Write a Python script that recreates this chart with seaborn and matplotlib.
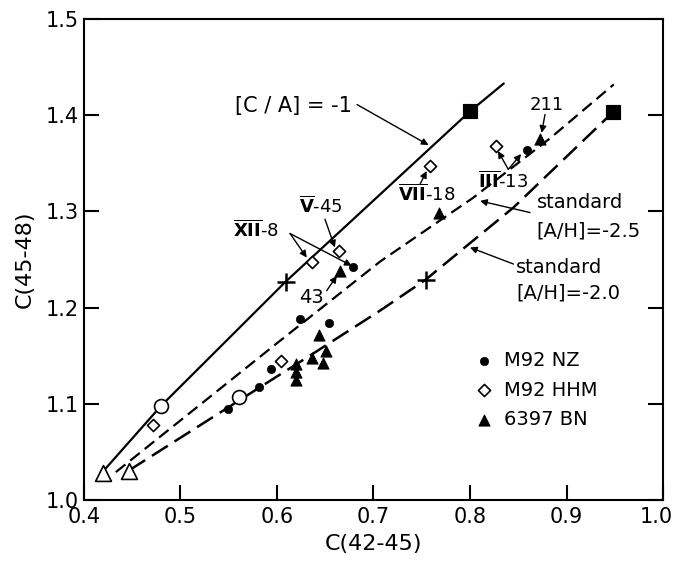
import matplotlib
matplotlib.use("Agg")
import matplotlib.pyplot as plt
from matplotlib.transforms import ScaledTranslation
import seaborn as sns

# lines
ca_x = [0.420, 0.480, 0.609, 0.800, 0.835]
ca_y = [1.030, 1.098, 1.227, 1.404, 1.433]
std25_x = [0.433, 0.600, 0.707, 0.803, 0.883, 0.949]
std25_y = [1.029, 1.163, 1.248, 1.314, 1.376, 1.432]
std20_x = [0.447, 0.582, 0.634, 0.707, 0.754, 0.800, 0.845, 0.948]
std20_y = [1.031, 1.117, 1.150, 1.197, 1.229, 1.267, 1.304, 1.403]

# points
nz_x = [0.549, 0.581, 0.594, 0.624, 0.654, 0.679, 0.859]
nz_y = [1.095, 1.117, 1.136, 1.188, 1.184, 1.242, 1.364]
hhm_x = [0.471, 0.604, 0.636, 0.664, 0.759, 0.827]
hhm_y = [1.078, 1.145, 1.247, 1.259, 1.347, 1.368]
bn_x = [0.620, 0.620, 0.620, 0.636, 0.644, 0.648, 0.651, 0.665, 0.768, 0.873]
bn_y = [1.141, 1.133, 1.125, 1.148, 1.171, 1.142, 1.155, 1.238, 1.298, 1.375]
opc_x = [0.4795, 0.561]
opc_y = [1.098, 1.107]
opt_x = [0.420, 0.447]
opt_y = [1.028, 1.030]
sq_x = [0.800, 0.948]
sq_y = [1.404, 1.403]
plus_x = [0.609, 0.754]
plus_y = [1.227, 1.229]

xticks = [0.4, 0.5, 0.6, 0.7, 0.8, 0.9, 1.0]
yticks = [1.0, 1.1, 1.2, 1.3, 1.4, 1.5]

sns.set_theme(style="ticks")
plt.rcParams['font.family'] = ['DejaVu Sans']
plt.rcParams['text.color'] = 'black'
plt.rcParams['axes.labelcolor'] = 'black'
plt.rcParams['mathtext.fontset'] = 'dejavusans'

fig = plt.figure(figsize=(6.76, 5.65), dpi=100)
ax = fig.add_axes([84 / 676, 65 / 565, 579 / 676, 481 / 565])

sns.lineplot(x=ca_x, y=ca_y, sort=False, color='black', linewidth=1.6, ax=ax)
sns.lineplot(x=std25_x, y=std25_y, sort=False, color='black', linewidth=1.6,
             linestyle=(0, (5.5, 2.8)), ax=ax)
sns.lineplot(x=std20_x, y=std20_y, sort=False, color='black', linewidth=1.8,
             linestyle=(0, (7.5, 3.2)), ax=ax)

sns.scatterplot(x=opc_x, y=opc_y, marker='o', s=100, facecolor='white',
                edgecolor='black', linewidth=1.2, zorder=5, ax=ax)
sns.scatterplot(x=opt_x, y=opt_y, marker='^', s=130, facecolor='white',
                edgecolor='black', linewidth=1.2, zorder=5, ax=ax)
sns.scatterplot(x=sq_x, y=sq_y, marker='s', s=110, color='black',
                edgecolor='black', zorder=5, ax=ax)
sns.scatterplot(x=plus_x, y=plus_y, marker='+', s=150, color='black',
                linewidth=1.8, zorder=5, ax=ax)

sns.scatterplot(x=nz_x, y=nz_y, marker='o', s=36, color='black',
                edgecolor='black', zorder=6, ax=ax, label='M92 NZ')
sns.scatterplot(x=hhm_x, y=hhm_y, marker='D', s=38, facecolor='white',
                edgecolor='black', linewidth=1.2, zorder=6, ax=ax, label='M92 HHM')
sns.scatterplot(x=bn_x, y=bn_y, marker='^', s=65, color='black',
                edgecolor='black', zorder=6, ax=ax, label='6397 BN')

ax.set_xlim(0.4, 1.0)
ax.set_ylim(1.0, 1.5)
ax.set_xticks(xticks)
ax.set_yticks(yticks)
ax.set_xticklabels([f"{t:.1f}" for t in xticks])
ax.set_yticklabels([f"{t:.1f}" for t in yticks])
ax.tick_params(direction='in', length=11, width=1.5, labelsize=15,
               right=True, colors='black')
ax.tick_params(axis='x', pad=5)
# keep the last x label inside the figure
last = ax.get_xticklabels()[-1]
last.set_transform(last.get_transform() + ScaledTranslation(-7 / 100, 0, fig.dpi_scale_trans))
for sp in ax.spines.values():
    sp.set_linewidth(1.5)
    sp.set_color('black')
ax.set_xlabel('C(42-45)', fontsize=16, labelpad=5)
ax.set_ylabel('C(45-48)', fontsize=16, labelpad=8)

arrow = dict(arrowstyle='-|>', color='black', lw=1.0, mutation_scale=10,
             shrinkA=0, shrinkB=0)
fs = 14

ax.text(0.5565, 1.410, '[C / A] = -1', fontsize=15, va='center', ha='left')
ax.annotate('', xy=(0.757, 1.369), xytext=(0.683, 1.411), arrowprops=arrow)

ax.text(0.578, 1.280, r'$\overline{\mathbf{XII}}$-8', fontsize=fs - 1,
        va='center', ha='center')
ax.annotate('', xy=(0.6308, 1.252), xytext=(0.6135, 1.277), arrowprops=arrow)
ax.annotate('', xy=(0.6774, 1.2435), xytext=(0.6135, 1.277), arrowprops=arrow)

ax.text(0.6456, 1.3057, r'$\overline{\mathbf{V}}$-45', fontsize=fs - 1,
        va='center', ha='center')
ax.annotate('', xy=(0.660, 1.2625), xytext=(0.6497, 1.2919), arrowprops=arrow)

ax.text(0.636, 1.2107, '43', fontsize=fs, va='center', ha='center')
ax.annotate('', xy=(0.662, 1.233), xytext=(0.6515, 1.2176), arrowprops=arrow)

ax.text(0.755, 1.3178, r'$\overline{\mathbf{VII}}$-18', fontsize=fs - 1,
        va='center', ha='center')
ax.annotate('', xy=(0.7551, 1.342), xytext=(0.7482, 1.3282), arrowprops=arrow)

ax.text(0.834, 1.331, r'$\overline{\mathbf{III}}$-13', fontsize=fs - 1,
        va='center', ha='center')
ax.annotate('', xy=(0.829, 1.3627), xytext=(0.8397, 1.3437), arrowprops=arrow)
ax.annotate('', xy=(0.853, 1.3596), xytext=(0.8397, 1.3437), arrowprops=arrow)

ax.text(0.8795, 1.411, '211', fontsize=fs - 1, va='center', ha='center')
ax.annotate('', xy=(0.8743, 1.3817), xytext=(0.8777, 1.4007), arrowprops=arrow)

ax.text(0.869, 1.3088, 'standard', fontsize=fs, va='center', ha='left')
ax.text(0.869, 1.2798, '[A/H]=-2.5', fontsize=fs, va='center', ha='left')
ax.annotate('', xy=(0.8104, 1.3109), xytext=(0.8622, 1.2988), arrowprops=arrow)

ax.text(0.848, 1.2418, 'standard', fontsize=fs, va='center', ha='left')
ax.text(0.848, 1.2155, '[A/H]=-2.0', fontsize=fs, va='center', ha='left')
ax.annotate('', xy=(0.800, 1.2625), xytext=(0.845, 1.2453), arrowprops=arrow)

ax.legend(loc='center left', bbox_to_anchor=((463 - 84) / 579, (500 - 390) / 481),
          frameon=False, fontsize=fs, handletextpad=0.4, labelspacing=0.55,
          borderpad=0, handlelength=1.2)

fig.savefig('out.png', dpi=100)
